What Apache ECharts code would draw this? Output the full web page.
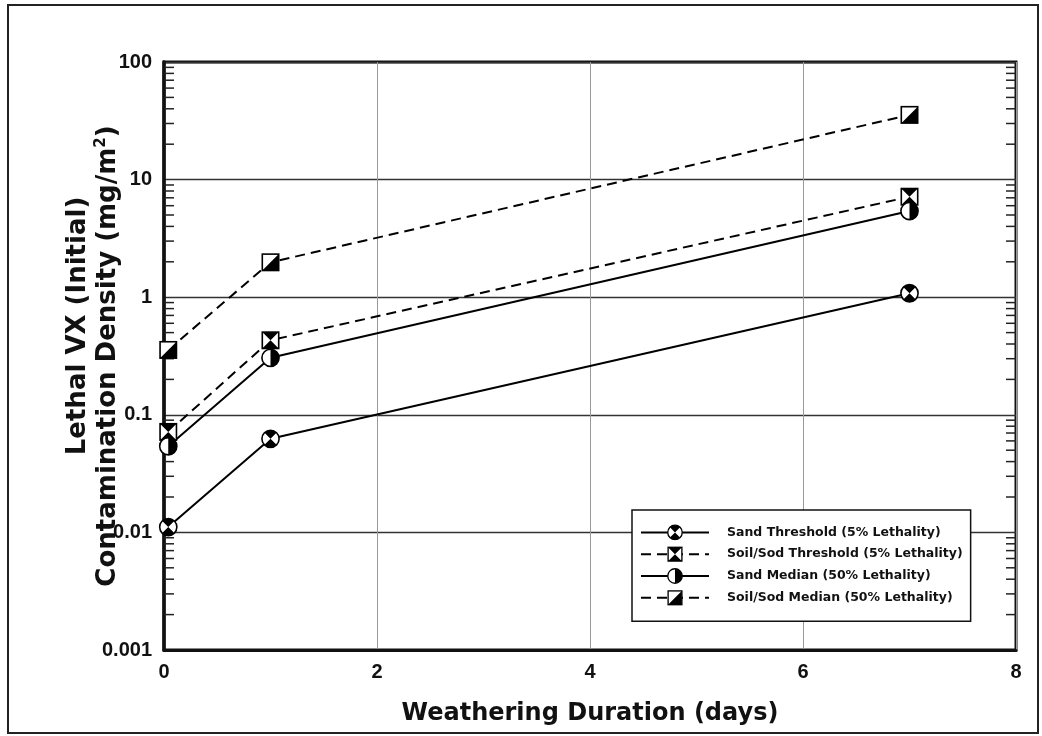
<!DOCTYPE html>
<html>
<head>
<meta charset="utf-8">
<script src="https://cdn.jsdelivr.net/npm/echarts@6/dist/echarts.min.js"></script>
<style>
  html, body { margin: 0; padding: 0; background: #fff; }
  #chart { width: 1042px; height: 736px; }
</style>
</head>
<body>
<div id="chart"></div>
<script>
// days of weathering
const days = [0.04, 1, 7];
// lethal contamination density, mg/m2
const sandThreshold = [0.0111, 0.0625, 1.08];
const soilThreshold = [0.0715, 0.43, 7.15];
const sandMedian = [0.054, 0.305, 5.4];
const soilMedian = [0.356, 1.98, 35.5];

const xTicks = [0, 2, 4, 6, 8];
const yTicks = [0.001, 0.01, 0.1, 1, 10, 100];

// minor tick values 2..9 in every decade
const minorVals = [];
for (let k = 0; k < yTicks.length - 1; k++) {
  for (let m = 2; m <= 9; m++) minorVals.push(yTicks[k] * m);
}

function svgSym(body) {
  const svg = "<svg xmlns='http://www.w3.org/2000/svg' width='40' height='40' viewBox='0 0 20 20'>" + body + "</svg>";
  return 'image://data:image/svg+xml;charset=utf-8,' + encodeURIComponent(svg);
}
const symCircleX = svgSym(
  "<circle cx='10' cy='10' r='8.6' fill='#fff' stroke='#000' stroke-width='1.6'/>" +
  "<path d='M10 10 L4 4 A8.5 8.5 0 0 1 16 4 Z M10 10 L16 16 A8.5 8.5 0 0 1 4 16 Z' fill='#000'/>"
);
const symSquareX = svgSym(
  "<rect x='1.8' y='1.8' width='16.4' height='16.4' fill='#fff' stroke='#000' stroke-width='1.6'/>" +
  "<path d='M2 2 L18 2 L10 10 Z M2 18 L18 18 L10 10 Z' fill='#000'/>"
);
const symHalfCircle = svgSym(
  "<circle cx='10' cy='10' r='8.6' fill='#fff' stroke='#000' stroke-width='1.6'/>" +
  "<path d='M10 1.4 A8.6 8.6 0 0 1 10 18.6 Z' fill='#000'/>"
);
const symHalfSquare = svgSym(
  "<rect x='1.8' y='1.8' width='16.4' height='16.4' fill='#fff' stroke='#000' stroke-width='1.6'/>" +
  "<path d='M18 2 L18 18 L2 18 Z' fill='#000'/>"
);

const names = [
  'Sand Threshold (5% Lethality)',
  'Soil/Sod Threshold (5% Lethality)',
  'Sand Median (50% Lethality)',
  'Soil/Sod Median (50% Lethality)'
];

function pairs(ys) {
  return days.map((d, i) => [d, ys[i]]);
}

function lineSeries(name, ys, symbol, dashed) {
  return {
    name: name,
    type: 'line',
    data: pairs(ys),
    symbol: symbol,
    symbolSize: 20,
    showAllSymbol: true,
    lineStyle: { color: '#000', width: 2, type: dashed ? [10, 6] : 'solid' },
    itemStyle: { color: '#000' },
    z: 3
  };
}

const chart = echarts.init(document.getElementById('chart'));
const font = '"Liberation Sans", Arial, sans-serif';
const wide = '"DejaVu Sans", sans-serif';

chart.setOption({
  animation: false,
  backgroundColor: '#fff',
  graphic: [{
    type: 'rect',
    shape: { x: 8, y: 5, width: 1030, height: 728 },
    style: { fill: 'none', stroke: '#222', lineWidth: 2 },
    silent: true
  }, {
    // first line of the y axis title
    type: 'text',
    x: 78, y: 326,
    rotation: Math.PI / 2,
    style: {
      text: 'Lethal VX (Initial)',
      fontFamily: wide, fontWeight: 'bold', fontSize: 26, fill: '#111',
      align: 'center', verticalAlign: 'middle'
    },
    silent: true
  }],
  grid: {
    left: 164, right: 26, top: 62, bottom: 86,
    show: true, borderColor: '#111', borderWidth: 3
  },
  legend: {
    orient: 'vertical',
    left: 632, top: 510,
    data: names,
    itemWidth: 68, itemHeight: 21, itemGap: 5,
    backgroundColor: '#fff',
    borderColor: '#111', borderWidth: 1.5,
    padding: [14, 8, 15, 8],
    textStyle: { fontFamily: wide, fontWeight: 'bold', fontSize: 12.5, color: '#111', padding: [0, 0, 0, 13] },
    z: 10
  },
  xAxis: {
    type: 'value',
    min: 0, max: 8, interval: 2,
    name: 'Weathering Duration (days)',
    nameLocation: 'middle',
    nameGap: 52,
    nameMoveOverlap: false,
    nameTextStyle: { fontFamily: wide, fontWeight: 'bold', fontSize: 24, color: '#111' },
    axisLine: { show: true, lineStyle: { color: '#111', width: 3 } },
    axisTick: { show: false },
    axisLabel: { fontFamily: font, fontWeight: 'bold', fontSize: 20, color: '#111', margin: 12,
      formatter: v => xTicks.includes(v) ? String(v) : '' },
    splitLine: { show: true, lineStyle: { color: '#999', width: 1 } }
  },
  yAxis: {
    type: 'log',
    logBase: 10,
    min: 0.001, max: 100,
    name: 'Contamination Density (mg/m{sup|2})',
    nameLocation: 'middle',
    nameRotate: 90,
    nameGap: 41,
    nameMoveOverlap: false,
    nameTextStyle: {
      fontFamily: wide, fontWeight: 'bold', fontSize: 26, color: '#111', lineHeight: 29,
      rich: { sup: { fontFamily: wide, fontWeight: 'bold', fontSize: 15, color: '#111', verticalAlign: 'top', lineHeight: 18, padding: [0, 0, 12, 0] } }
    },
    axisLine: { show: true, lineStyle: { color: '#111', width: 3.5 } },
    axisTick: { show: false },
    axisLabel: { fontFamily: font, fontWeight: 'bold', fontSize: 20, color: '#111', margin: 12,
      formatter: v => {
        const t = yTicks.find(y => Math.abs(Math.log10(y) - Math.log10(v)) < 1e-6);
        return t === undefined ? '' : String(t);
      } },
    splitLine: { show: true, lineStyle: { color: '#333', width: 1.3 } }
  },
  series: [
    lineSeries(names[0], sandThreshold, symCircleX, false),
    lineSeries(names[1], soilThreshold, symSquareX, true),
    lineSeries(names[2], sandMedian, symHalfCircle, false),
    lineSeries(names[3], soilMedian, symHalfSquare, true),
    {
      type: 'custom',
      name: 'minorTicks',
      silent: true,
      z: 2,
      data: minorVals.map(v => [0, v]),
      encode: { x: 0, y: 1 },
      renderItem: function (params, api) {
        const cs = params.coordSys;
        const y = api.coord([0, api.value(1)])[1];
        const len = 10;
        return {
          type: 'group',
          children: [
            { type: 'line', shape: { x1: cs.x, y1: y, x2: cs.x + len, y2: y }, style: { stroke: '#222', lineWidth: 1.5 } },
            { type: 'line', shape: { x1: cs.x + cs.width - len, y1: y, x2: cs.x + cs.width, y2: y }, style: { stroke: '#222', lineWidth: 1.5 } }
          ]
        };
      }
    }
  ]
});
</script>
</body>
</html>
